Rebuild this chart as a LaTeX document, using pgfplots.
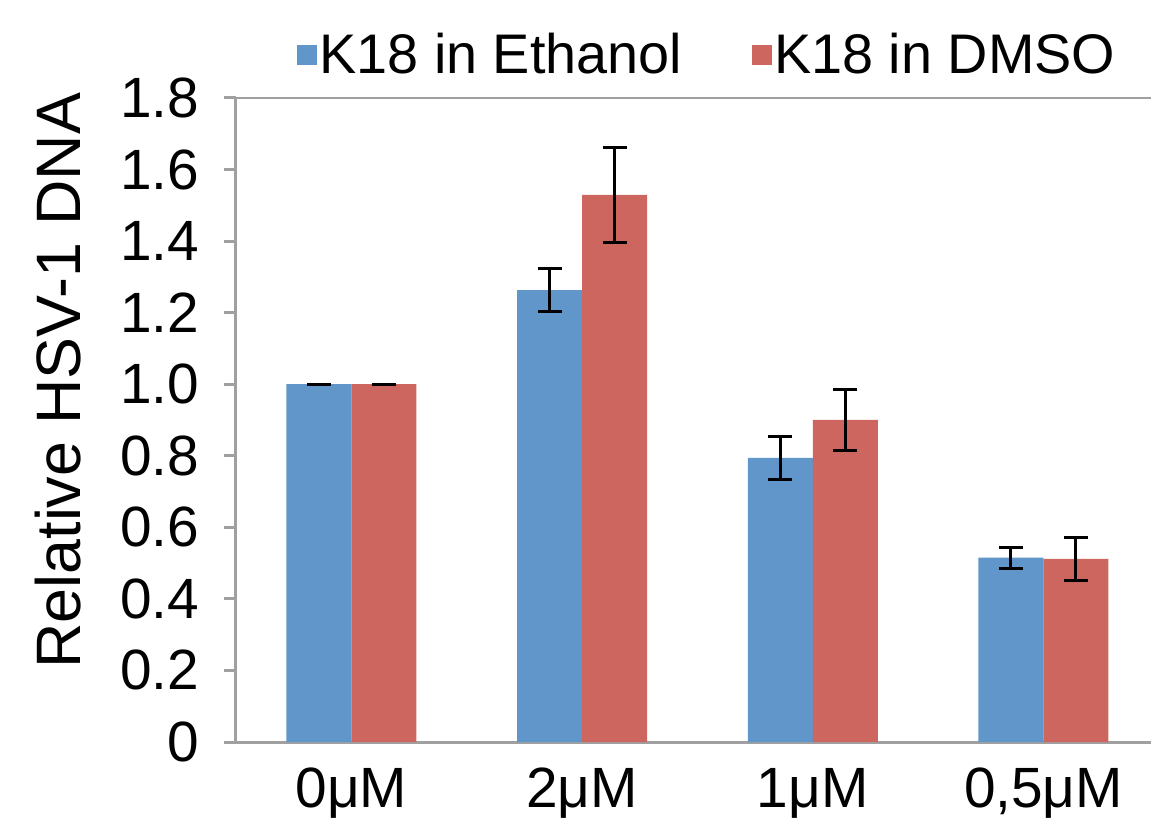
\documentclass[border=0pt]{standalone}
\usepackage{pgfplots}
\pgfplotsset{compat=1.18}
\usepackage{fontspec}
\setmainfont{Liberation Sans}
\definecolor{ethblue}{RGB}{97,150,202}
\definecolor{dmsored}{RGB}{205,102,95}
\definecolor{axgray}{RGB}{160,160,160}
\begin{document}
\begin{tikzpicture}
\begin{axis}[
  at={(0,0)}, anchor=south west,
  scale only axis, width=457.5bp, height=322bp,
  ybar=0pt, bar width=32.5bp,
  xmin=-0.5, xmax=3.466, ymin=0, ymax=1.8,
  axis x line*=bottom, axis y line*=left,
  axis line style={axgray, line width=1.5bp, -},
  xtick={0,1,2,3},
  xticklabels={0μM, 2μM, 1μM, {0,5μM}},
  xtick style={draw=none},
  extra x ticks={-0.5,0.5,1.5,2.5},
  extra x tick labels={},
  extra x tick style={tick style={axgray, line width=1.5bp}, major tick length=6bp, tick align=outside},
  ytick={0,0.2,...,1.8},
  yticklabels={0,0.2,0.4,0.6,0.8,1.0,1.2,1.4,1.6,1.8},
  ytick style={axgray, line width=1.5bp},
  major tick length=6bp, tick align=outside,
  ticklabel style={font=\fontsize{28.5}{32}\selectfont},
  yticklabel style={anchor=east, xshift=-9bp},
  xticklabel style={anchor=base, yshift=-26.5bp},
  ylabel={Relative HSV-1 DNA},
  ylabel style={font=\fontsize{31.5}{34}\selectfont, at={(axis description cs:-0.1945,0.561)}, anchor=center},
  legend columns=2,
  legend style={draw=none, fill=none, at={(axis description cs:0.0601,1.0668)}, anchor=west,
    font=\fontsize{28}{32}\selectfont, nodes={inner sep=1bp},
    /tikz/every even column/.append style={column sep=34bp}},
  legend image code/.code={\fill[#1] (0bp,-5bp) rectangle (10bp,5bp);},
  error bars/y dir=both, error bars/y explicit,
  error bars/error bar style={black, line width=1.5bp},
  error bars/error mark options={rotate=90, mark size=6bp, line width=1.5bp, black},
]
\addplot[fill=ethblue, draw=none] coordinates {
  (0,1.0) +- (0,0)
  (1,1.263) +- (0,0.06)
  (2,0.794) +- (0,0.06)
  (3,0.515) +- (0,0.03)
};
\addplot[fill=dmsored, draw=none] coordinates {
  (0,1.0) +- (0,0)
  (1,1.529) +- (0,0.132)
  (2,0.90) +- (0,0.085)
  (3,0.512) +- (0,0.06)
};
\legend{K18 in Ethanol, K18 in DMSO}
\draw[axgray, line width=1.5bp] (rel axis cs:0,1) -- (rel axis cs:1,1);
\end{axis}
\pgfresetboundingbox
\path[use as bounding box] (-118bp,-38bp) rectangle (457.5bp,371bp);
\end{tikzpicture}
\end{document}
